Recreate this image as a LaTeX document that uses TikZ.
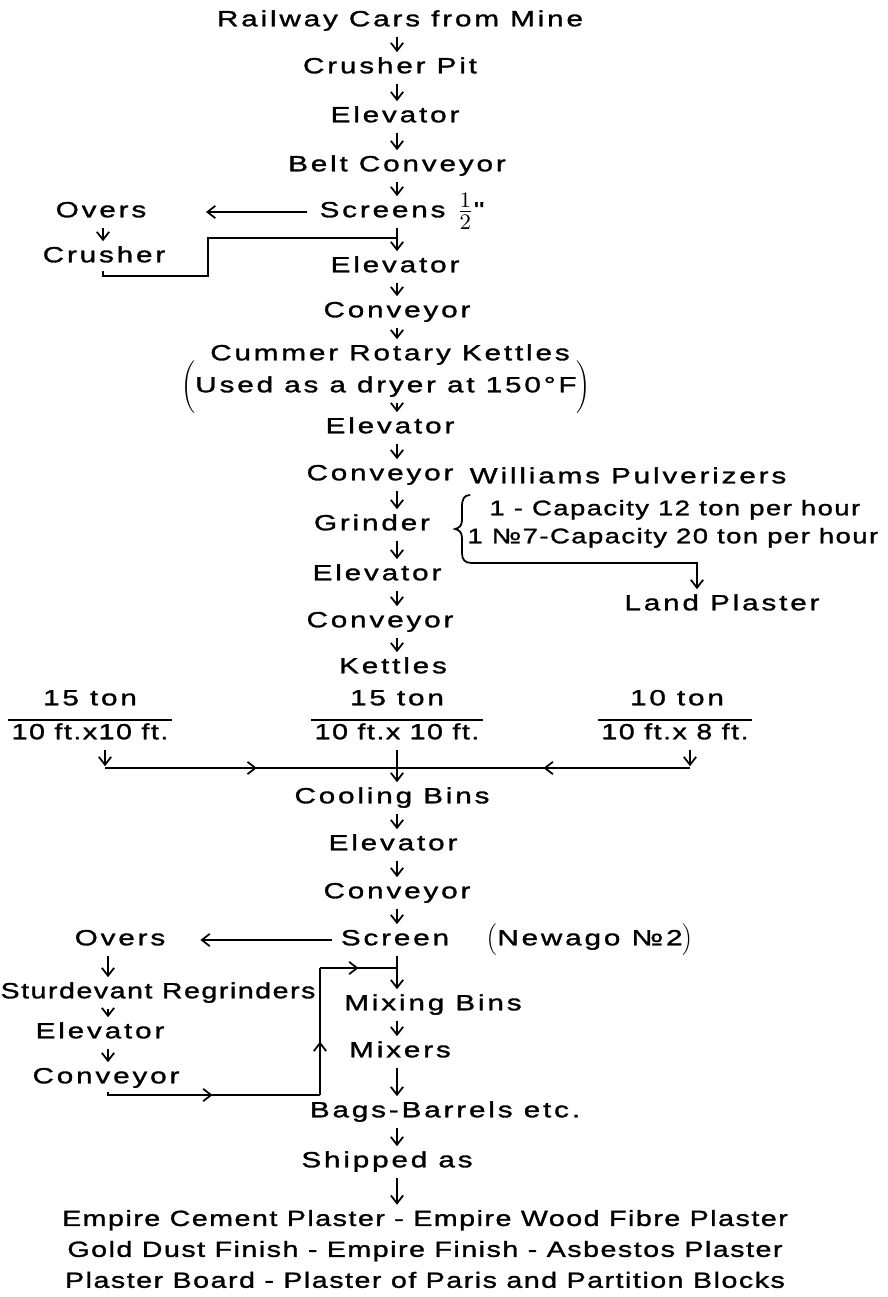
\documentclass[tikz,border=0pt]{standalone}
\usepackage{fontspec}
\usepackage{graphicx}
\setmainfont{Liberation Sans}
\newfontfamily\letters[FakeStretch=1.35,LetterSpace=13,FakeBold=1.4]{Liberation Sans}
\newfontfamily\tightletters[FakeStretch=1.3,LetterSpace=7,FakeBold=1.4]{Liberation Sans}
\usetikzlibrary{arrows.meta,decorations.markings}

\tikzset{
  stage/.style={font=\letters\fontsize{12.5}{15}\selectfont,inner sep=1.5pt,text height=9pt,text depth=3pt},
  tightstage/.style={stage,font=\tightletters\fontsize{12.5}{15}\selectfont},
  capstage/.style={stage,font=\tightletters\fontsize{12}{14}\selectfont},
  flow/.style={-{Straight Barb[length=4.5pt,width=7pt]},shorten <=1pt,shorten >=1pt},
  midarr/.style={postaction={decorate},decoration={markings,
    mark=at position #1 with {\arrow{Straight Barb[length=4.5pt,width=7pt]}}}},
}

\begin{document}
\begin{tikzpicture}[x=0.02cm,y=-0.02cm,line width=1pt]
\useasboundingbox (0,0) rectangle (887,1297);
\coordinate (col) at (397,0);
\coordinate (ucol) at (103,0);
\coordinate (lcol) at (108,0);

% main column
\node[stage] (rail) at (400,21) {Railway Cars from Mine};
\node[stage] (pit) at (390,68) {Crusher Pit};
\node[stage] (elevA) at (395,117) {Elevator};
\node[stage] (belt) at (397,166) {Belt Conveyor};
\node[stage] (screens) at (402,212) {Screens \raisebox{-1pt}{\scalebox{1.4}{$\frac{1}{2}$}}"};
\node[stage] (elevB) at (395,267) {Elevator};
\node[stage] (convA) at (397,312) {Conveyor};
\node[stage] (cummer) at (390,355) {Cummer Rotary Kettles};
\node[stage] (dryer) at (386,387) {$\Bigg($Used as a dryer at 150°F$\Bigg)$};
\node[stage] (elevC) at (390,428) {Elevator};
\node[stage] (convB) at (380,475) {Conveyor};
\node[stage] (grinder) at (372,525) {Grinder};
\node[stage] (elevD) at (377,575) {Elevator};
\node[stage] (convC) at (380,622) {Conveyor};
\node[stage] (kettles) at (393,668) {Kettles};

% kettle sizes
\node[stage] (tonL) at (90,700) {15 ton};
\node[tightstage] (dimL) at (90,734) {10 ft.x10 ft.};
\node[stage] (tonM) at (397,700) {15 ton};
\node[tightstage] (dimM) at (397,734) {10 ft.x 10 ft.};
\node[stage] (tonR) at (677,700) {10 ton};
\node[tightstage] (dimR) at (675,734) {10 ft.x 8 ft.};
\foreach \d in {dimL,dimM,dimR}
  \draw (\d.north west) -- (\d.north east);

\node[stage] (cool) at (392,798) {Cooling Bins};
\node[stage] (elevE) at (393,845) {Elevator};
\node[stage] (convD) at (397,893) {Conveyor};
\node[stage] (screen) at (395,940) {Screen};
\node[stage] (newago) at (590,940) {$\Big($Newago №2$\Big)$};
\node[stage] (mixbins) at (433,1005) {Mixing Bins};
\node[stage] (mixers) at (400,1052) {Mixers};
\node[stage] (bags) at (445,1112) {Bags-Barrels etc.};
\node[stage] (shipped) at (387,1162) {Shipped as};
\node[font=\tightletters\fontsize{12.5}{17.6}\selectfont,align=center,inner sep=1.5pt] (prod) at (425,1249)
  {Empire Cement Plaster - Empire Wood Fibre Plaster\\
   Gold Dust Finish - Empire Finish - Asbestos Plaster\\
   Plaster Board - Plaster of Paris and Partition Blocks};

\foreach \a/\b in {rail/pit,pit/elevA,elevA/belt,belt/screens,screens/elevB,elevB/convA,
  convA/cummer,dryer/elevC,elevC/convB,convB/grinder,grinder/elevD,elevD/convC,
  convC/kettles,dimM/cool,cool/elevE,elevE/convD,convD/screen,screen/mixbins,
  mixbins/mixers,mixers/bags,bags/shipped,shipped/prod}
  \draw[flow] (\a.south -| col) -- (\b.north -| col);

% first screening
\node[stage] (oversA) at (101,212) {Overs};
\node[stage] (crusher) at (104,257) {Crusher};
\draw[flow,shorten <=5pt,shorten >=32pt] (screens.west) -- (oversA.east);
\draw[flow] (oversA.south -| ucol) -- (crusher.north -| ucol);
\coordinate (crA) at (208,276);
\coordinate (crB) at (397,238);
\draw (crusher.south -| ucol) |- (crA) |- (crB);

% pulverizers
\node[stage] (will) at (628,478) {Williams Pulverizers};
\node[capstage,anchor=west] (capA) at (486,510) {1 - Capacity 12 ton per hour};
\node[capstage,anchor=west] (capB) at (464,538) {1 №7-Capacity 20 ton per hour};
\node[stage] (land) at (722,605) {Land Plaster};
\draw[flow] (472,495) .. controls (464,495) and (462,499) .. (462,507) -- (462,520)
  .. controls (462,526) and (459,528) .. (455,529) .. controls (459,530) and (462,532) .. (462,538)
  -- (462,553) .. controls (462,560) and (465,563) .. (472,563) -| ([xshift=-0.5cm]land.north);

% kettles to cooling bins
\coordinate (fanL) at (105,768);
\coordinate (fanM) at (397,768);
\coordinate (fanR) at (690,768);
\draw[flow] (dimL.south -| fanL) -- (fanL);
\draw[flow] (dimR.south -| fanR) -- (fanR);
\draw[midarr=0.52] (fanL) -- (fanM);
\draw[midarr=0.5] (fanR) -- (fanM);

% regrinding
\node[stage] (oversB) at (120,940) {Overs};
\node[tightstage] (sturd) at (158,993) {Sturdevant Regrinders};
\node[stage] (elevF) at (100,1033) {Elevator};
\node[stage] (convE) at (106,1078) {Conveyor};
\draw[flow,shorten <=3pt,shorten >=18pt] (screen.west) -- (oversB.east);
\foreach \a/\b in {oversB/sturd,sturd/elevF,elevF/convE}
  \draw[flow] (\a.south -| lcol) -- (\b.north -| lcol);
\coordinate (regA) at (320,1095);
\coordinate (regB) at (320,968);
\coordinate (regC) at (397,968);
\draw[midarr=0.5] (convE.south -| lcol) |- (regA);
\draw[midarr=0.42] (regA) -- (regB);
\draw[midarr=0.5] (regB) -- (regC);
\end{tikzpicture}
\end{document}
